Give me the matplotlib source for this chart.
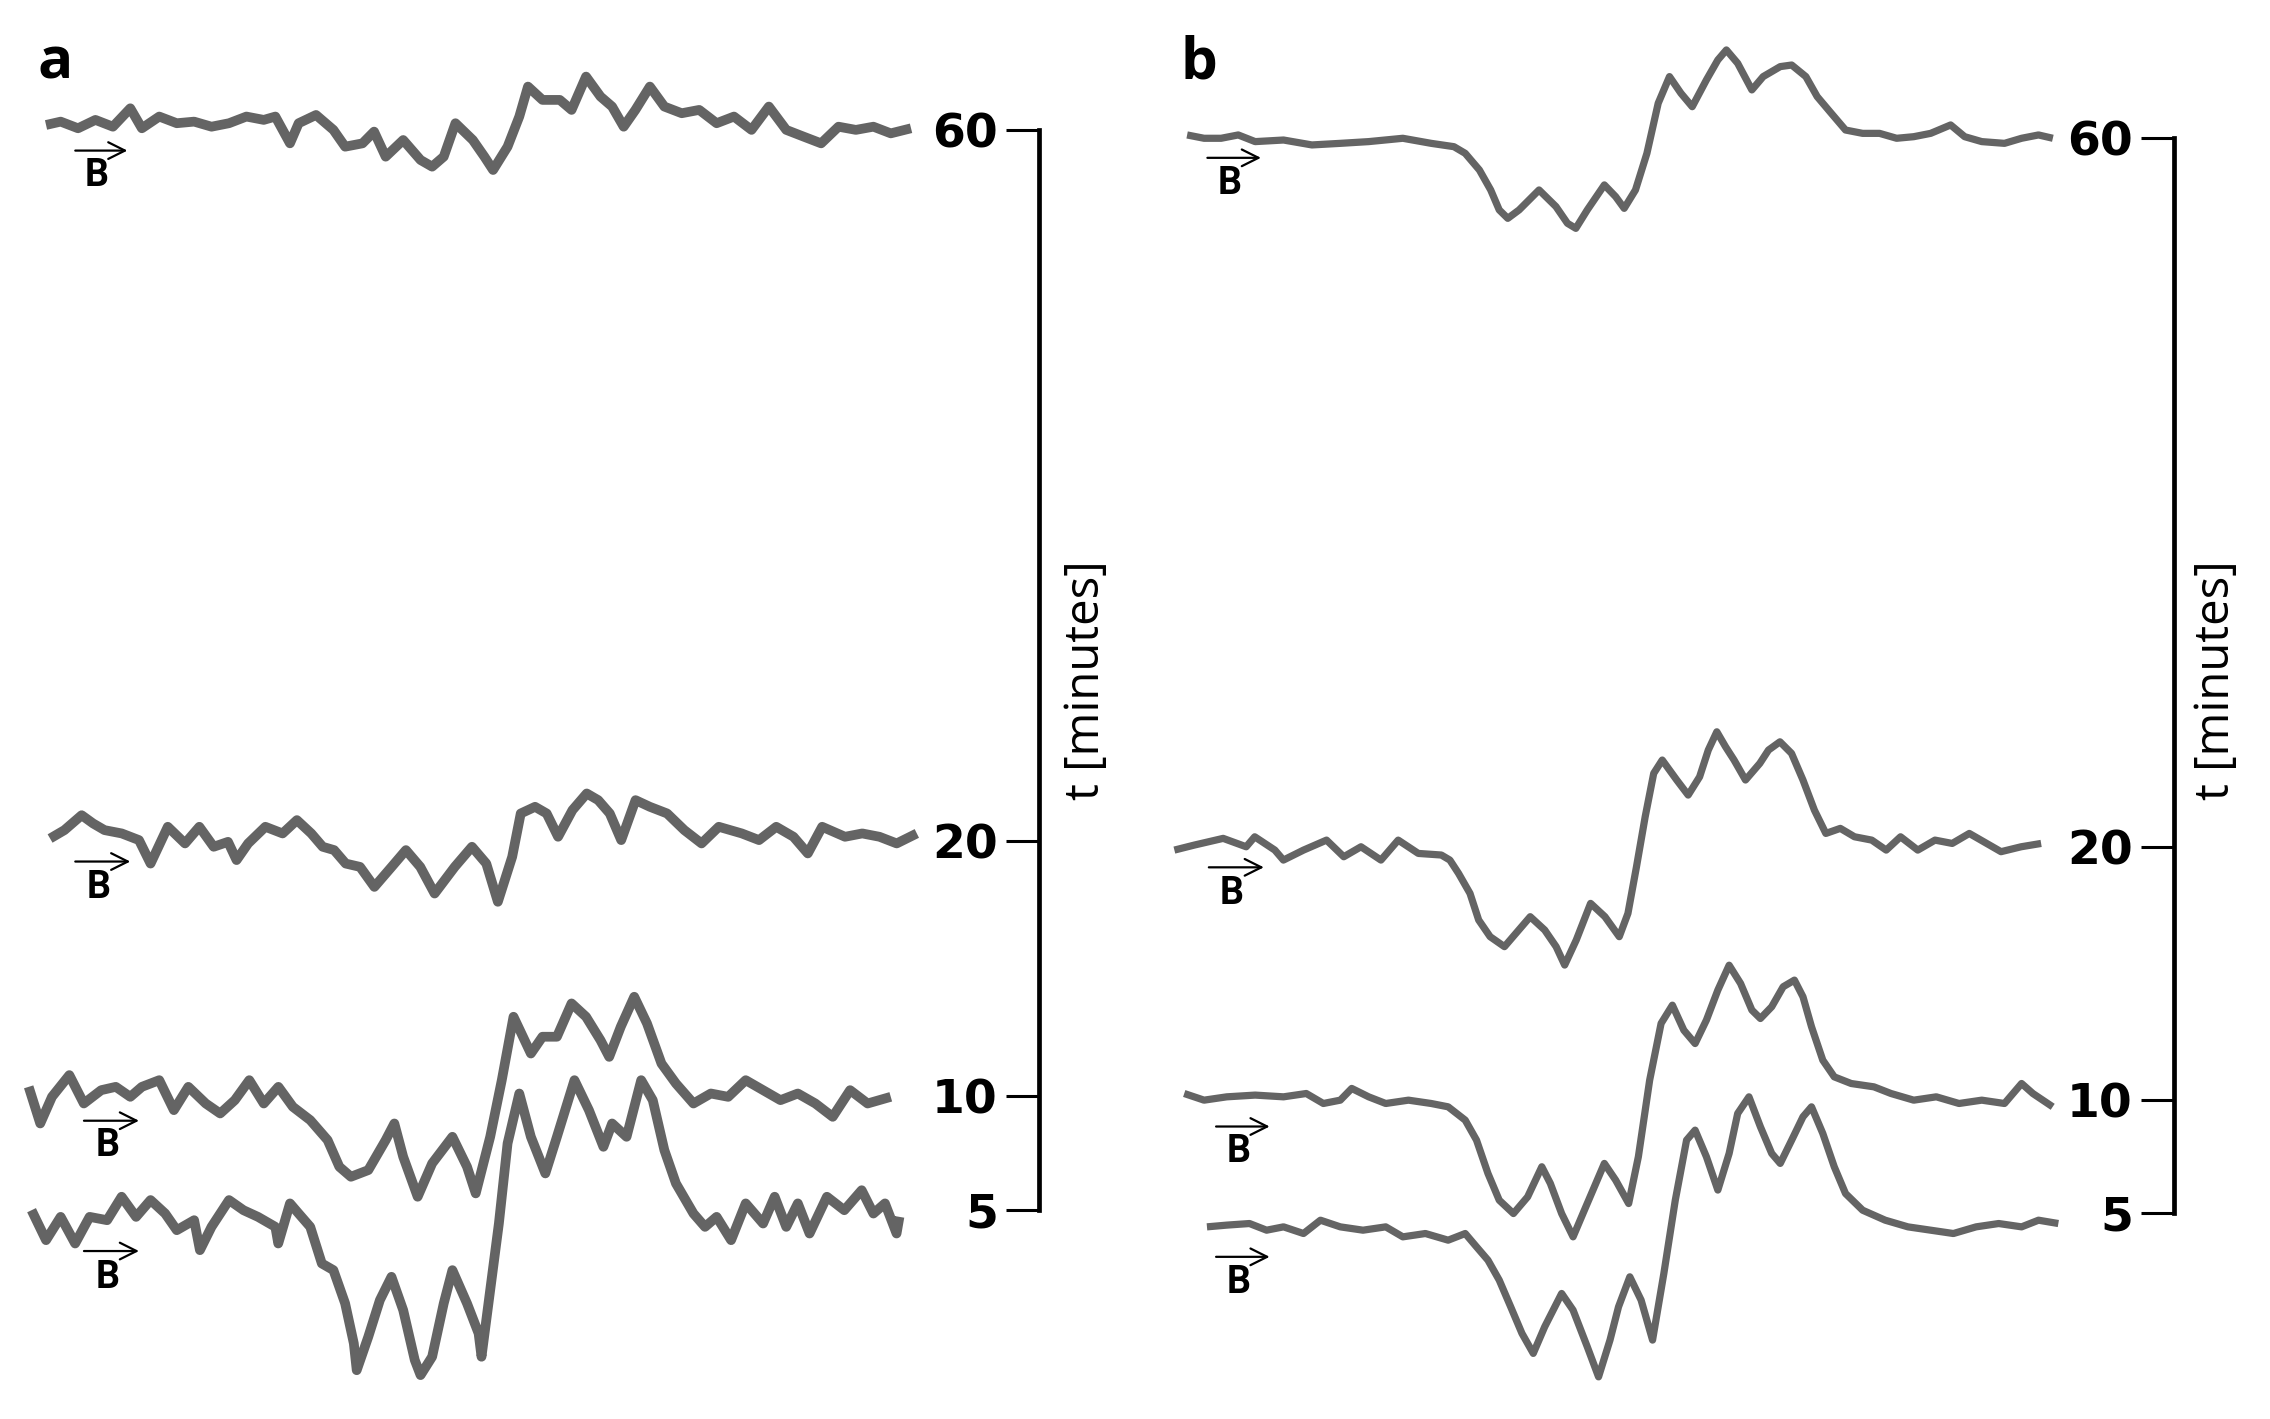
import matplotlib
matplotlib.use("Agg")
import matplotlib.pyplot as plt

# ---------------- data (field in arbitrary units, signal in arbitrary units) ----------------
times = [60, 20, 10, 5]            # minutes, one spectrum each

a60_field = [31.8,41.9,53.9,65.9,78.0,90.0,98.0,110.0,122.1,134.1,146.1,158.2,170.2,182.2,190.2,200.3,206.3,218.3,230.3,238.4,250.4,258.4,266.4,278.5,290.5,298.5,306.5,314.6,326.6,334.6,340.6,350.6,358.7,364.7,374.7,386.7,394.8,404.8,414.8,422.8,430.8,438.9,448.9,458.9,470.9,483.0,495.0,507.0,519.1,531.1,543.1,555.2,567.2,579.2,591.2,603.3,615.3,629.3]
a60_signal = [3.7,6.0,1.4,7.2,2.5,15.2,1.4,9.5,4.9,6.0,2.5,4.9,9.5,7.2,9.5,-9.0,4.9,10.6,0.3,-11.3,-9.0,-0.9,-18.2,-6.7,-20.5,-25.1,-18.2,4.9,-6.7,-18.2,-27.4,-11.3,9.5,30.2,21.0,21.0,14.1,37.1,23.3,16.4,2.5,14.1,30.2,16.4,11.8,14.1,4.9,9.5,0.3,16.4,0.3,-4.4,-9.0,2.5,0.3,2.5,-2.1,1.4]

a20_field = [34.6,44.5,56.4,64.3,72.2,84.1,96.0,104.0,115.9,127.8,137.7,147.6,157.5,163.4,171.4,183.3,195.2,205.1,215.0,222.9,230.8,238.8,248.7,258.6,270.5,280.4,290.3,300.2,314.1,326.0,335.9,343.9,353.8,359.7,369.6,377.6,385.5,395.4,405.3,413.2,421.2,429.1,439.0,448.9,460.8,472.7,484.6,496.5,512.4,524.3,536.2,548.1,558.0,567.9,583.7,595.6,607.5,619.4,633.3]
a20_signal = [1.9,7.7,18.0,12.3,7.7,5.4,0.8,-15.4,10.0,-1.5,10.0,-3.8,-0.4,-13.0,-1.5,10.0,5.4,14.6,5.4,-3.8,-6.1,-15.4,-17.7,-31.5,-17.7,-6.1,-17.7,-36.1,-17.7,-3.8,-15.4,-41.8,-10.7,19.2,23.8,19.2,3.1,21.5,33.0,28.4,19.2,0.8,28.4,23.8,19.2,7.7,-1.5,10.0,5.4,0.8,10.0,3.1,-8.4,10.0,3.1,5.4,3.1,-1.5,5.4]

a10_field = [19.8,27.8,35.9,47.9,57.9,69.9,80.0,90.0,98.0,110.0,120.1,130.1,142.1,152.1,162.2,172.2,182.2,192.3,202.3,214.3,226.3,234.4,242.4,254.4,266.4,272.4,278.5,288.5,298.5,312.5,322.6,328.6,338.6,346.6,354.7,366.7,374.7,384.7,394.8,404.8,414.8,420.8,428.8,438.1,446.9,456.9,466.9,479.0,491.0,503.0,515.1,527.1,539.1,551.1,563.2,575.2,587.2,599.3,615.3]
a10_signal = [6.4,-18.9,-0.5,14.5,-5.1,4.1,6.4,-0.5,6.4,11.0,-9.7,6.4,-5.1,-12.0,-2.8,11.0,-5.1,6.4,-7.4,-16.6,-30.4,-48.8,-55.7,-51.1,-30.4,-18.9,-41.9,-69.5,-46.5,-28.1,-48.8,-67.2,-28.1,11.0,54.8,29.4,41.0,41.0,64.0,54.8,38.6,27.1,47.9,68.6,50.2,22.5,8.7,-5.1,1.8,-0.5,11.0,4.1,-2.8,1.8,-5.1,-14.3,4.1,-5.1,-0.5]

a5_field = [21.8,31.8,41.9,51.9,61.9,74.0,84.0,94.0,104.0,114.1,122.1,134.1,138.1,146.1,158.2,168.2,178.2,190.2,192.2,200.3,206.3,214.3,222.3,230.3,238.4,244.4,246.4,254.4,262.4,270.4,278.5,286.5,290.5,298.5,306.5,312.5,322.6,330.6,332.6,338.6,344.6,350.6,358.7,366.7,376.7,384.7,396.8,406.8,416.8,422.8,432.8,442.9,450.9,458.9,466.9,479.0,487.0,495.0,505.0,515.1,527.1,535.1,543.1,551.1,559.2,571.2,583.2,595.2,603.3,611.3,619.3,621.3]
a5_signal = [0.2,-20.5,-4.4,-22.8,-4.4,-6.7,9.5,-4.4,7.2,-2.1,-13.6,-6.7,-27.4,-11.3,7.2,0.2,-4.4,-11.3,-22.8,4.9,-2.1,-11.3,-36.6,-41.2,-64.2,-91.8,-110.3,-87.2,-61.9,-45.8,-68.8,-103.3,-113.7,-101.0,-64.2,-41.2,-64.2,-84.9,-101.0,-55.0,-9.0,46.3,80.8,50.9,25.6,50.9,90.0,69.3,44.0,60.1,50.9,90.0,76.2,41.7,18.7,-2.1,-11.3,-4.4,-20.5,4.9,-9.0,9.5,-11.3,4.9,-15.9,9.5,0.2,14.0,-2.1,4.9,-15.9,-4.4]

b60_field = [820.0,831.7,843.5,855.3,867.0,886.6,906.2,925.8,945.4,969.0,988.6,1004.3,1012.1,1021.9,1029.7,1035.6,1041.5,1049.3,1063.1,1074.8,1082.7,1088.5,1096.4,1108.2,1116.0,1121.9,1129.7,1137.6,1145.4,1153.2,1161.1,1168.9,1178.7,1186.6,1192.5,1200.3,1210.1,1217.9,1229.7,1237.6,1247.4,1255.2,1265.0,1274.8,1286.6,1298.3,1310.1,1321.9,1333.6,1347.4,1357.1,1368.9,1384.6,1396.4,1408.1,1418.0]
b60_signal = [1.8,-0.5,-0.5,1.8,-2.8,-1.7,-5.1,-4.0,-2.8,-0.5,-4.0,-6.3,-10.9,-22.4,-36.2,-50.0,-55.8,-50.0,-36.2,-47.7,-59.2,-62.7,-50.0,-32.7,-40.8,-48.9,-36.2,-10.9,23.7,42.1,30.6,21.3,39.8,53.6,60.5,51.3,32.9,42.1,49.0,50.1,42.1,28.3,16.7,5.2,2.9,2.9,-0.5,0.6,2.9,8.7,0.6,-2.8,-4.0,-0.5,1.8,-0.5]

b20_field = [811.2,825.1,844.9,860.8,866.7,880.6,886.5,900.4,916.3,928.2,940.1,953.9,965.8,979.7,995.6,1001.5,1007.5,1015.4,1021.4,1029.3,1039.2,1047.1,1057.0,1067.0,1074.9,1080.8,1088.8,1098.7,1108.6,1118.5,1124.5,1130.4,1136.4,1142.3,1148.2,1158.2,1166.1,1174.0,1180.0,1185.9,1191.9,1197.8,1205.7,1215.6,1221.6,1229.5,1237.5,1245.4,1253.3,1261.2,1271.2,1281.0,1292.9,1302.9,1312.8,1324.7,1336.6,1348.5,1360.3,1372.3,1382.2,1396.1,1409.9]
b20_signal = [-2.1,1.4,6.0,0.2,7.1,-2.1,-9.0,-2.1,4.8,-6.7,0.2,-9.0,4.8,-4.4,-5.5,-9.0,-18.2,-32.0,-50.4,-61.9,-68.8,-59.6,-48.1,-57.3,-68.8,-81.5,-64.2,-38.9,-48.1,-61.9,-45.8,-13.6,20.9,50.9,60.1,46.3,35.9,48.5,67.0,79.6,69.3,60.1,46.3,57.8,67.0,72.7,64.7,46.3,25.5,9.4,12.9,7.1,4.8,-2.1,7.1,-2.1,4.8,2.5,9.4,2.5,-3.2,0.2,2.5]

b10_field = [818.0,831.7,847.4,867.0,886.6,902.3,914.1,925.8,933.7,945.4,957.2,972.9,988.6,1000.3,1012.1,1019.9,1027.8,1035.6,1045.4,1055.2,1065.0,1070.9,1078.7,1086.6,1094.4,1108.2,1116.0,1125.0,1131.7,1139.5,1147.4,1155.2,1163.1,1170.9,1178.7,1186.6,1194.4,1202.3,1210.1,1216.0,1223.8,1231.7,1239.5,1245.4,1251.3,1259.1,1267.0,1278.7,1294.4,1306.2,1321.9,1337.5,1353.2,1368.9,1384.6,1396.4,1404.2,1417.9]
b10_signal = [4.8,0.2,2.5,3.7,2.5,4.8,-2.1,0.2,8.3,2.5,-2.1,0.2,-2.1,-4.4,-13.6,-27.4,-50.4,-68.9,-78.1,-66.6,-45.8,-57.3,-78.1,-94.2,-75.8,-43.5,-55.0,-71.2,-38.9,14.0,53.2,65.8,48.5,39.3,55.5,76.2,93.4,80.8,62.4,56.6,64.7,78.5,83.1,71.6,50.9,27.8,16.3,11.7,9.4,4.8,0.2,2.5,-2.1,0.2,-2.1,11.7,4.8,-4.4]

b5_field = [833.7,847.4,863.1,874.9,886.6,900.4,912.1,925.8,941.5,957.2,969.0,984.6,1000.3,1012.1,1019.9,1027.8,1035.6,1043.5,1051.3,1059.1,1067.0,1078.7,1086.6,1096.4,1104.2,1112.1,1118.0,1125.8,1133.6,1141.5,1149.3,1157.2,1165.0,1170.9,1178.7,1186.6,1194.4,1200.3,1208.1,1216.0,1223.8,1229.7,1237.6,1245.4,1251.3,1259.1,1267.0,1274.8,1286.6,1302.2,1317.9,1333.6,1349.3,1365.0,1380.6,1396.4,1408.1,1421.8]
b5_signal = [-9.3,-8.1,-7.0,-11.6,-9.3,-13.9,-4.7,-9.3,-11.6,-9.3,-16.2,-13.9,-18.5,-13.9,-23.1,-32.3,-46.1,-64.5,-82.9,-96.7,-78.3,-55.3,-66.8,-92.1,-112.9,-87.5,-64.5,-43.8,-59.9,-87.5,-41.5,9.1,50.6,57.5,39.1,16.1,41.4,69.0,80.5,59.8,41.4,34.5,50.6,66.7,73.6,55.2,32.2,13.7,2.2,-4.7,-9.3,-11.6,-13.9,-9.3,-7.0,-9.3,-4.7,-7.0]

panel_labels = ["a", "b"]
axis_title = "t [minutes]"

# ---------------- layout (not data) ----------------
W, H = 1568.0, 980.0          # layout units
TRACE_COLOR = "#646464"

panels = [
    dict(label="a", xlim=(0, 784), axis_x=718, baselines=[90, 581, 757, 836],
         traces=[(a60_field, a60_signal), (a20_field, a20_signal),
                 (a10_field, a10_signal), (a5_field, a5_signal)],
         lw=7.0, label_pos=(38, 44), title_pos=(750, 470),
         arrows=[(52, 88, 104, 121), (52, 90, 595, 613), (58, 96, 774, 791), (58, 96, 864, 882)]),
    dict(label="b", xlim=(784, 1568), axis_x=1502, baselines=[95, 585, 760, 838],
         traces=[(b60_field, b60_signal), (b20_field, b20_signal),
                 (b10_field, b10_signal), (b5_field, b5_signal)],
         lw=5.2, label_pos=(828, 44), title_pos=(1531, 470),
         arrows=[(834, 871, 109, 127), (835, 873, 599, 617), (840, 877, 778, 795), (840, 877, 868, 886)]),
]

fig = plt.figure(figsize=(22.70, 14.19), dpi=100)
fig.patch.set_facecolor("white")

for p in panels:
    x0, x1 = p["xlim"]
    ax = fig.add_axes([x0 / W, 0, (x1 - x0) / W, 1])
    ax.set_xlim(x0, x1)
    ax.set_ylim(H, 0)
    ax.patch.set_alpha(0)
    for s in ("top", "right", "bottom"):
        ax.spines[s].set_visible(False)
    ax.set_xticks([])

    for (fx, sy), base in zip(p["traces"], p["baselines"]):
        n = min(len(fx), len(sy))
        ax.plot(fx[:n], [base - v for v in sy[:n]], color=TRACE_COLOR,
                lw=p["lw"], solid_joinstyle="round", solid_capstyle="butt", zorder=3)

    # time axis
    sp = ax.spines["left"]
    sp.set_position(("data", p["axis_x"]))
    sp.set_bounds(min(p["baselines"]), max(p["baselines"]))
    sp.set_linewidth(3.4)
    sp.set_color("black")
    ax.set_yticks(p["baselines"])
    ax.set_yticklabels([str(t) for t in times])
    ax.tick_params(axis="y", direction="out", length=24, width=2.2, pad=6,
                   labelsize=34, colors="black")
    for lab in ax.get_yticklabels():
        lab.set_fontweight("bold")
        lab.set_family("DejaVu Sans")

    ax.text(p["title_pos"][0], p["title_pos"][1], axis_title, rotation=90,
            ha="center", va="center", fontsize=34, family=["Open Sans", "DejaVu Sans"])

    ax.text(p["label_pos"][0], p["label_pos"][1], p["label"], ha="center", va="center",
            fontsize=42, fontweight="bold", family=["Open Sans", "DejaVu Sans"])

    for (ax0, ax1, ya, yb) in p["arrows"]:
        ax.annotate("", xy=(ax1, ya), xytext=(ax0, ya),
                    arrowprops=dict(arrowstyle="->", lw=1.6, color="black",
                                    mutation_scale=30, shrinkA=0, shrinkB=0))
        ax.text((ax0 + ax1) / 2 - 3, yb, "B", ha="center", va="center",
                fontsize=27, fontweight="bold", family=["Roboto", "DejaVu Sans"])

fig.savefig("out.png", dpi=100, facecolor="white")
